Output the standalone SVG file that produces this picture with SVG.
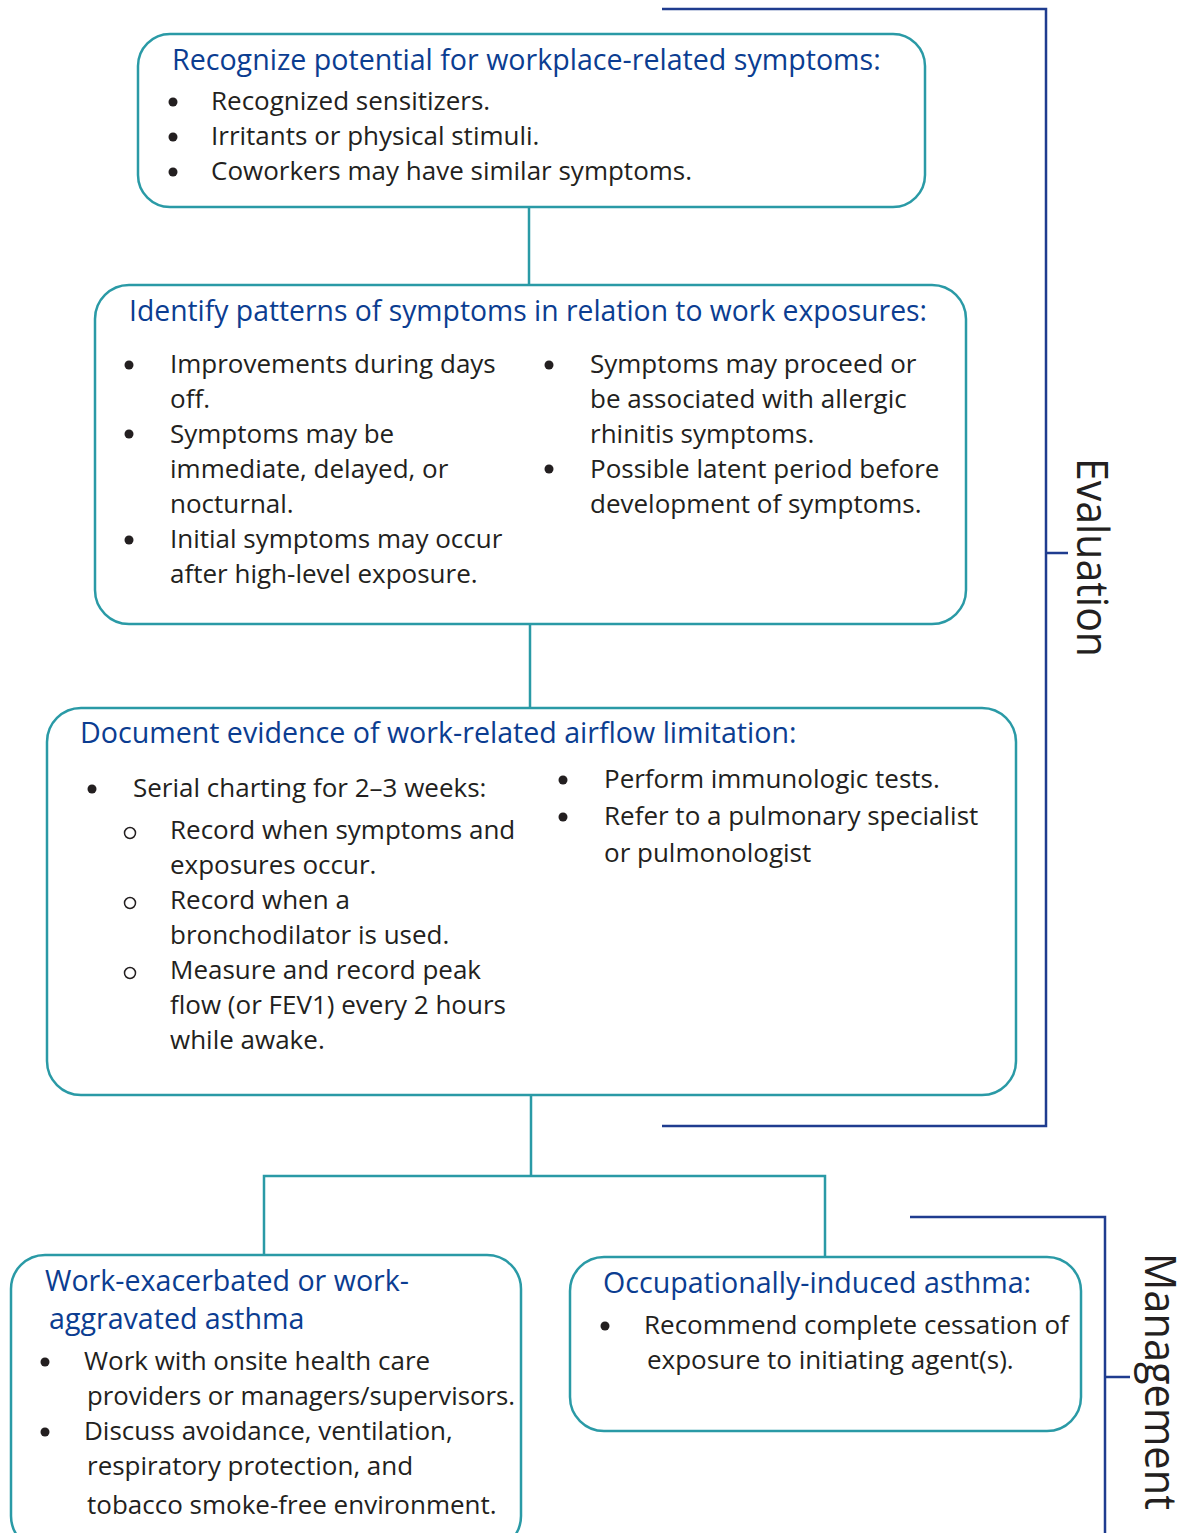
<svg xmlns="http://www.w3.org/2000/svg" width="1199" height="1533" viewBox="0 0 1199 1533">
<style>
.box{fill:#fff;stroke:#2a9aa6;stroke-width:2.5}
.conn{fill:none;stroke:#2a9aa6;stroke-width:2.5}
.br{fill:none;stroke:#1f3c8f;stroke-width:2.5}
.h{font-family:"Open Sans","Liberation Sans",sans-serif;font-size:28.6px;fill:#0b3d91}
.t{font-family:"Open Sans","Liberation Sans",sans-serif;font-size:26px;fill:#231f20}
.side{font-family:"Open Sans","Liberation Sans",sans-serif;font-size:44px;fill:#231f20}
.dot{fill:#231f20}
.ring{fill:none;stroke:#231f20;stroke-width:1.5}
</style>
<rect width="1199" height="1533" fill="#fff"/>
<g id="brackets">
<path class="br" d="M662 9H1046V1126H662M1046 553H1068"/>
<path class="br" d="M910 1217H1105V1533M1105 1377H1130"/>
<text class="side" transform="translate(1077,458) rotate(90)" textLength="199" lengthAdjust="spacingAndGlyphs">Evaluation</text>
<text class="side" transform="translate(1145,1253) rotate(90)" textLength="257" lengthAdjust="spacingAndGlyphs">Management</text>
</g>
<g id="connectors">
<path class="conn" d="M529 207V285"/>
<path class="conn" d="M530 624V708"/>
<path class="conn" d="M531 1095V1176M264 1255V1176H825V1257"/>
</g>
<g id="node1">
<rect class="box" x="138" y="34" width="787" height="173" rx="32"/>
<text class="h" x="172" y="70">Recognize potential for workplace-related symptoms:</text>
<circle class="dot" cx="173" cy="102" r="4.5"/><text class="t" x="211" y="110">Recognized sensitizers.</text>
<circle class="dot" cx="173" cy="137" r="4.5"/><text class="t" x="211" y="145">Irritants or physical stimuli.</text>
<circle class="dot" cx="173" cy="172" r="4.5"/><text class="t" x="211" y="180">Coworkers may have similar symptoms.</text>
</g>
<g id="node2">
<rect class="box" x="95" y="285" width="871" height="339" rx="34"/>
<text class="h" x="129" y="321" textLength="798" lengthAdjust="spacingAndGlyphs">Identify patterns of symptoms in relation to work exposures:</text>
<circle class="dot" cx="129" cy="365" r="4.5"/><text class="t" x="170" y="373">Improvements during days</text>
<text class="t" x="170" y="408">off.</text>
<circle class="dot" cx="129" cy="434" r="4.5"/><text class="t" x="170" y="443">Symptoms may be</text>
<text class="t" x="170" y="478">immediate, delayed, or</text>
<text class="t" x="170" y="513">nocturnal.</text>
<circle class="dot" cx="129" cy="540" r="4.5"/><text class="t" x="170" y="548">Initial symptoms may occur</text>
<text class="t" x="170" y="583">after high-level exposure.</text>
<circle class="dot" cx="549" cy="365" r="4.5"/><text class="t" x="590" y="373">Symptoms may proceed or</text>
<text class="t" x="590" y="408">be associated with allergic</text>
<text class="t" x="590" y="443">rhinitis symptoms.</text>
<circle class="dot" cx="549" cy="469" r="4.5"/><text class="t" x="590" y="478">Possible latent period before</text>
<text class="t" x="590" y="513">development of symptoms.</text>
</g>
<g id="node3">
<rect class="box" x="47" y="708" width="969" height="387" rx="34"/>
<text class="h" x="80" y="743">Document evidence of work-related airflow limitation:</text>
<circle class="dot" cx="92" cy="789" r="4.5"/><text class="t" x="133" y="797">Serial charting for 2–3 weeks:</text>
<circle class="ring" cx="130" cy="833" r="5.5"/><text class="t" x="170" y="839">Record when symptoms and</text>
<text class="t" x="170" y="874">exposures occur.</text>
<circle class="ring" cx="130" cy="903" r="5.5"/><text class="t" x="170" y="909">Record when a</text>
<text class="t" x="170" y="944">bronchodilator is used.</text>
<circle class="ring" cx="130" cy="973" r="5.5"/><text class="t" x="170" y="979">Measure and record peak</text>
<text class="t" x="170" y="1014">flow (or FEV1) every 2 hours</text>
<text class="t" x="170" y="1049">while awake.</text>
<circle class="dot" cx="563" cy="780" r="4.5"/><text class="t" x="604" y="788">Perform immunologic tests.</text>
<circle class="dot" cx="563" cy="817" r="4.5"/><text class="t" x="604" y="825">Refer to a pulmonary specialist</text>
<text class="t" x="604" y="862">or pulmonologist</text>
</g>
<g id="node4">
<rect class="box" x="11" y="1255" width="510" height="295" rx="34"/>
<text class="h" x="45" y="1291">Work-exacerbated or work-</text>
<text class="h" x="49" y="1329">aggravated asthma</text>
<circle class="dot" cx="45" cy="1362" r="4.5"/><text class="t" x="84" y="1370">Work with onsite health care</text>
<text class="t" x="87" y="1405" textLength="428" lengthAdjust="spacingAndGlyphs">providers or managers/supervisors.</text>
<circle class="dot" cx="45" cy="1432" r="4.5"/><text class="t" x="84" y="1440">Discuss avoidance, ventilation,</text>
<text class="t" x="87" y="1475">respiratory protection, and</text>
<text class="t" x="87" y="1514">tobacco smoke-free environment.</text>
</g>
<g id="node5">
<rect class="box" x="570" y="1257" width="511" height="174" rx="34"/>
<text class="h" x="603" y="1293">Occupationally-induced asthma:</text>
<circle class="dot" cx="605" cy="1326" r="4.5"/><text class="t" x="644" y="1334">Recommend complete cessation of</text>
<text class="t" x="647" y="1369">exposure to initiating agent(s).</text>
</g>
</svg>
